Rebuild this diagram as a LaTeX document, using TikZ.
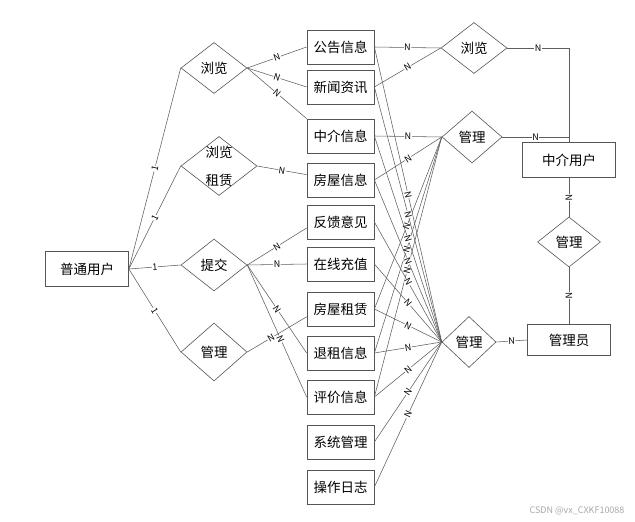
\documentclass[tikz,border=0pt]{standalone}
\usepackage{fontspec}
\setmainfont{Noto Sans CJK SC}
\usetikzlibrary{shapes.geometric}
\definecolor{edge}{HTML}{555555}
\definecolor{wire}{HTML}{5E5E5E}
\definecolor{mark}{HTML}{A8A8A8}

\begin{document}
\begin{tikzpicture}[x=1pt, y=-1pt,
  font=\fontsize{13.5}{15}\selectfont,
  ent/.style={draw=edge, line width=0.75pt, minimum width=67pt,
              minimum height=34pt, inner sep=0pt},
  rel/.style={draw=edge, shape=diamond, line width=0.6pt, inner sep=0pt,
              aspect=1.3},
  l/.style={draw=wire, line width=0.55pt},
  card/.style={font=\fontsize{9}{9}\selectfont, fill=white,
               inner sep=0.5pt, sloped, midway}]
\useasboundingbox (0,0) rectangle (635,522);

% user side
\node[ent, minimum width=83pt, minimum height=35pt] (pt) at (87,269) {普通用户};
\node[rel, minimum width=66pt, minimum height=51pt] (ll1) at (214,68) {浏览};
\node[rel, minimum width=76pt, minimum height=59pt, inner sep=-9pt,
      align=center, font=\fontsize{13.5}{28}\selectfont]
  (llzl) at (219,166) {浏览\\租赁};
\node[rel, minimum width=66pt, minimum height=52pt] (tj) at (214,265) {提交};
\node[rel, minimum width=66pt, minimum height=58pt] (gl1) at (214,352) {管理};

% entities
\node[ent] (ggxx) at (340.5,47) {公告信息};
\node[ent] (xwzx) at (340.5,87) {新闻资讯};
\node[ent] (zjxx) at (340.5,136) {中介信息};
\node[ent] (fwxx) at (340.5,180) {房屋信息};
\node[ent] (fkyj) at (340.5,222) {反馈意见};
\node[ent] (zxcz) at (340.5,264) {在线充值};
\node[ent] (fwzl) at (340.5,309) {房屋租赁};
\node[ent] (tzxx) at (340.5,353) {退租信息};
\node[ent] (pjxx) at (340.5,397) {评价信息};
\node[ent] (xtgl) at (340.5,442) {系统管理};
\node[ent] (czrz) at (340.5,487) {操作日志};

% agent and admin side
\node[rel, minimum width=66pt, minimum height=51pt] (ll2) at (474,48) {浏览};
\node[rel, minimum width=60pt, minimum height=52pt] (gl2) at (472,137) {管理};
\node[ent, minimum width=93pt, minimum height=35pt] (zjyh) at (569,160) {中介用户};
\node[rel, minimum width=63pt, minimum height=50pt] (gl3) at (569,242) {管理};
\node[ent, minimum width=83pt, minimum height=31pt] (gly) at (569,340) {管理员};
\node[rel, minimum width=54pt, minimum height=51pt] (gl4) at (469,342) {管理};

\node[font=\fontsize{9}{9}\selectfont, text=mark, anchor=east]
  (wm) at (628,511) {CSDN @vx\_CXKF10088};

% user relations
\draw[l] (pt.east) -- node[card]{1} (ll1.west);
\draw[l] (pt.east) -- node[card]{1} (llzl.west);
\draw[l] (pt.east) -- node[card]{1} (tj.west);
\draw[l] (pt.east) -- node[card]{1} (gl1.west);
\draw[l] (ll1.east) -- node[card]{N} (ggxx.west);
\draw[l] (ll1.east) -- node[card]{N} (xwzx.west);
\draw[l] (ll1.east) -- node[card]{N} (zjxx.north west);
\draw[l] (llzl.east) -- node[card]{N} (fwxx.171);
\draw[l] (tj.east) -- node[card]{N} (fkyj.190);
\draw[l] (tj.east) -- node[card]{N} (zxcz.west);
\draw[l] (tj.east) -- node[card]{N} (tzxx.west);
\draw[l] (tj.east) -- node[card, pos=0.56]{N} (pjxx.west);
\draw[l] (gl1.east) -- node[card, pos=0.4]{N} (fwzl.193);

% agent relations
\draw[l] (ggxx.east) -- node[card]{N} (ll2.west);
\draw[l] (xwzx.east) -- node[card]{N} (ll2.west);
\draw[l] (ll2.east) -| node[card, pos=0.25]{N} (zjyh.north);
\draw[l] (zjxx.east) -- node[card]{N} (gl2.west);
\draw[l] (fwxx.east) -- node[card]{N} (gl2.west);
\draw[l] (fwzl.east) -- node[card, pos=0.48]{N} (gl2.west);
\draw[l] (tzxx.east) -- node[card, pos=0.48]{N} (gl2.west);
\draw[l] (pjxx.east) -- node[card, pos=0.487]{N} (gl2.west);
\draw[l] (gl2.east) -| node[card, pos=0.25]{N} (zjyh.north);
\draw[l] (zjyh.south) -- node[card]{N} (gl3.north);
\draw[l] (gl3.south) -- node[card]{N} (gly.north);

% admin relations
\draw[l] (ggxx.east) -- node[card]{N} (gl4.west);
\draw[l] (xwzx.east) -- node[card]{N} (gl4.west);
\draw[l] (zjxx.east) -- node[card]{N} (gl4.west);
\draw[l] (fwxx.east) -- node[card]{N} (gl4.west);
\draw[l] (fkyj.east) -- node[card]{N} (gl4.west);
\draw[l] (zxcz.east) -- node[card]{N} (gl4.west);
\draw[l] (fwzl.east) -- node[card]{N} (gl4.west);
\draw[l] (tzxx.east) -- node[card]{N} (gl4.west);
\draw[l] (pjxx.east) -- node[card]{N} (gl4.west);
\draw[l] (xtgl.east) -- node[card]{N} (gl4.west);
\draw[l] (czrz.east) -- node[card]{N} (gl4.west);
\draw[l] (gl4.east) -- node[card]{N} (gly.west);
\end{tikzpicture}
\end{document}
